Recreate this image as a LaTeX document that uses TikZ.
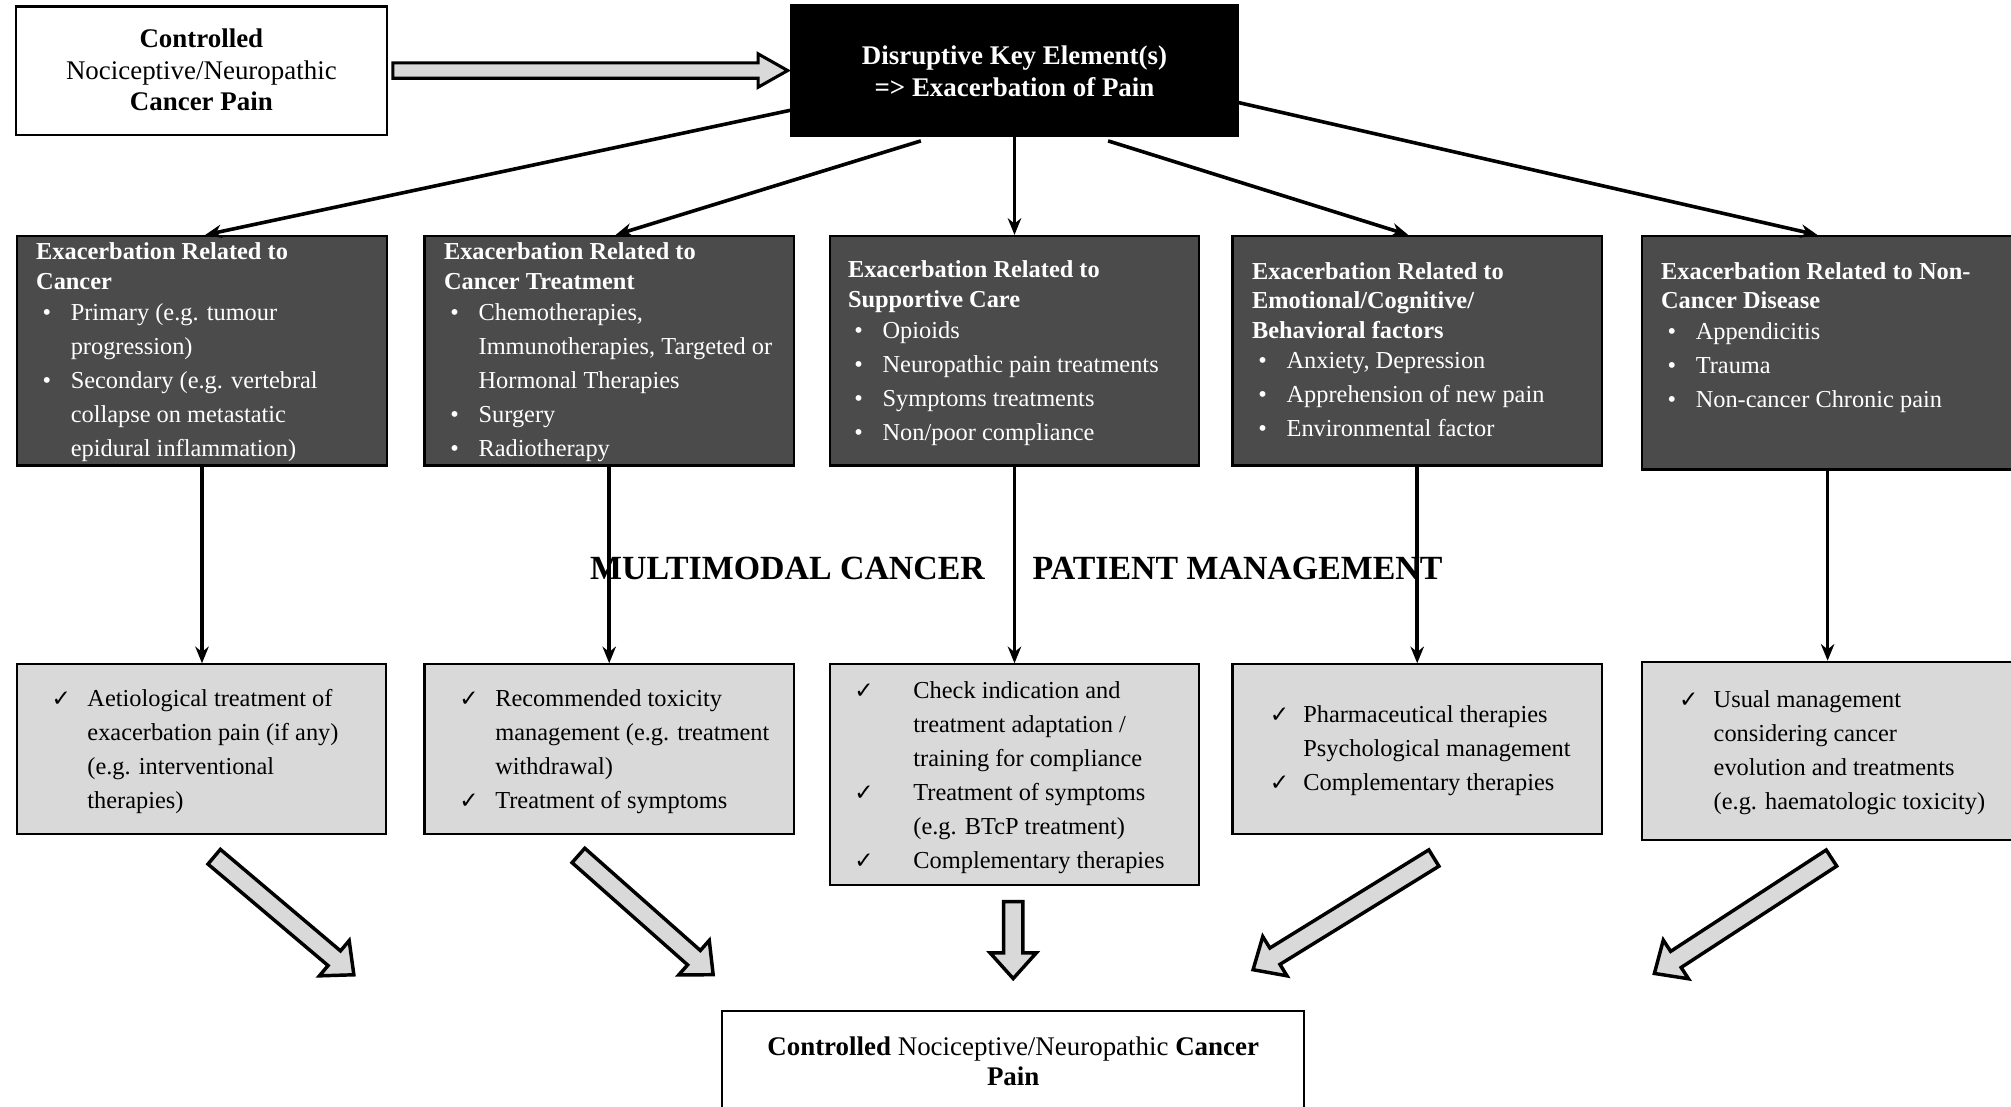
\documentclass[tikz,border=0pt]{standalone}
\usepackage{fontspec}
\setmainfont{Liberation Serif}
\newfontfamily\symfont{DejaVu Sans}
\usetikzlibrary{arrows.meta,calc}
\definecolor{darkfill}{HTML}{4B4B4B}
\definecolor{lightfill}{HTML}{D9D9D9}
\newcommand{\bu}{\makebox[27pt][l]{\hspace*{5pt}•}}
\newcommand{\ind}{\hspace*{27pt}}
\newcommand{\ck}[1]{\makebox[#1][l]{\symfont\fontsize{18}{18}\selectfont ✓}}
\newcommand{\blockarrow}[4]{%
  \begin{scope}[shift={(#1,#2)}, rotate=#3]
    \draw[barr] (0,-7.5) -- (#4-20,-7.5) -- (#4-20,-18) -- (#4,0) -- (#4-20,18) -- (#4-20,7.5) -- (0,7.5) -- cycle;
  \end{scope}}
\tikzset{
  box/.style={draw=black, line width=1.7pt, inner sep=0pt, rectangle},
  darkbox/.style={box, fill=darkfill},
  lightbox/.style={box, fill=lightfill},
  whitebox/.style={box, fill=white},
  blackbox/.style={box, fill=black},
  dtext/.style={text=white, font=\fontsize{19}{26.5}\selectfont, align=left, anchor=north west, inner sep=0pt},
  ltext/.style={text=black, font=\fontsize{19}{26.5}\selectfont, align=left, anchor=north west, inner sep=0pt},
  conn/.style={line width=2.8pt, -{Stealth[length=13pt,width=10.5pt]}},
  barr/.style={draw=black, line width=2.7pt, fill=lightfill, line join=miter},
}
\begin{document}
\begin{tikzpicture}[x=1pt, y=-1pt]
\useasboundingbox (0,0) rectangle (1568,863);
\fill[white] (0,0) rectangle (1568,863);

% top row
\node[whitebox, minimum width=289pt, minimum height=100pt] (ctl) at (157,55) {};
\node[blackbox, minimum width=348pt, minimum height=102pt] (dis) at (791,55) {};
\node[align=center, anchor=north, inner sep=0pt, font=\fontsize{21}{24.5}\selectfont] (ctlt) at (157,19.85)
  {\strut\textbf{Controlled}\\ Nociceptive/Neuropathic\\ \textbf{Cancer Pain}};
\node[align=center, anchor=north, inner sep=0pt, text=white, font=\fontsize{21}{25}\selectfont\bfseries] (dist) at (791,32.5)
  {\strut Disruptive Key Element(s)\\ => Exacerbation of Pain};

% top block arrow
\draw[barr, line width=2.4pt] ($(ctl.east)+(4,-6)$) -- ($(dis.west)+(-25,-6)$) -- ($(dis.west)+(-25,-13)$)
  -- ($(dis.west)+(-2,0)$) -- ($(dis.west)+(-25,13)$) -- ($(dis.west)+(-25,6)$) -- ($(ctl.east)+(4,6)$) -- cycle;

% dark boxes
\node[darkbox, minimum width=289pt, minimum height=179pt] (c1) at (157.5,273.5) {};
\node[darkbox, minimum width=288pt, minimum height=179pt] (c2) at (475,273.5) {};
\node[darkbox, minimum width=288pt, minimum height=179pt] (c3) at (791,273.5) {};
\node[darkbox, minimum width=288pt, minimum height=179pt] (c4) at (1105,273.5) {};
\node[darkbox, minimum width=290pt, minimum height=182pt] (c5) at (1425,275) {};

\node[dtext] (c1t) at (28,183.95) {\strut\textbf{Exacerbation Related to}\\[-3.5pt]
  \textbf{Cancer}\\[-2.5pt]
  \bu Primary (e.g. tumour\\
  \ind progression)\\
  \bu Secondary (e.g. vertebral\\
  \ind collapse on metastatic\\
  \ind epidural inflammation)};
\node[dtext] (c2t) at (346,183.95) {\strut\textbf{Exacerbation Related to}\\[-3.5pt]
  \textbf{Cancer Treatment}\\[-2.5pt]
  \bu Chemotherapies,\\
  \ind Immunotherapies, Targeted or\\
  \ind Hormonal Therapies\\
  \bu Surgery\\
  \bu Radiotherapy};
\node[dtext] (c3t) at (661,197.95) {\strut\textbf{Exacerbation Related to}\\[-3.5pt]
  \textbf{Supportive Care}\\[-2.5pt]
  \bu Opioids\\
  \bu Neuropathic pain treatments\\
  \bu Symptoms treatments\\
  \bu Non/poor compliance};
\node[dtext] (c4t) at (976,198.95) {\strut\textbf{Exacerbation Related to}\\[-3.5pt]
  \textbf{Emotional/Cognitive/}\\[-3.5pt]
  \textbf{Behavioral factors}\\[-2.5pt]
  \bu Anxiety, Depression\\
  \bu Apprehension of new pain\\
  \bu Environmental factor};
\node[dtext] (c5t) at (1295,198.95) {\strut\textbf{Exacerbation Related to Non-}\\[-3.5pt]
  \textbf{Cancer Disease}\\[-2.5pt]
  \bu Appendicitis\\
  \bu Trauma\\
  \bu Non-cancer Chronic pain};

% light boxes
\node[lightbox, minimum width=288pt, minimum height=132pt] (l1) at (157,584) {};
\node[lightbox, minimum width=288pt, minimum height=132pt] (l2) at (475,584) {};
\node[lightbox, minimum width=288pt, minimum height=172pt] (l3) at (791,604) {};
\node[lightbox, minimum width=288pt, minimum height=132pt] (l4) at (1105,584) {};
\node[lightbox, minimum width=290pt, minimum height=139pt] (l5) at (1425,585.5) {};

\node[ltext] (l1t) at (40,531.95) {\strut\ck{28pt}Aetiological treatment of\\
  \hspace*{28pt}exacerbation pain (if any)\\
  \hspace*{28pt}(e.g. interventional\\
  \hspace*{28pt}therapies)};
\node[ltext] (l2t) at (358,531.95) {\strut\ck{28pt}Recommended toxicity\\
  \hspace*{28pt}management (e.g. treatment\\
  \hspace*{28pt}withdrawal)\\
  \ck{28pt}Treatment of symptoms};
\node[ltext] (l3t) at (666,525.95) {\strut\ck{46pt}Check indication and\\
  \hspace*{46pt}treatment adaptation /\\
  \hspace*{46pt}training for compliance\\
  \ck{46pt}Treatment of symptoms\\
  \hspace*{46pt}(e.g. BTcP treatment)\\
  \ck{46pt}Complementary therapies};
\node[ltext] (l4t) at (990,544.95) {\strut\ck{26pt}Pharmaceutical therapies\\
  \hspace*{26pt}Psychological management\\
  \ck{26pt}Complementary therapies};
\node[ltext] (l5t) at (1309,532.95) {\strut\ck{27pt}Usual management\\
  \hspace*{27pt}considering cancer\\
  \hspace*{27pt}evolution and treatments\\
  \hspace*{27pt}(e.g. haematologic toxicity)};

% connectors from disruptive element
\draw[conn] ([yshift=-31pt]dis.west) -- ([xshift=2.5pt]c1.north);
\draw[conn] ([xshift=-73pt,yshift=-3pt]dis.south) -- ([xshift=5pt]c2.north);
\draw[conn] (dis.south) -- (c3.north);
\draw[conn] ([xshift=73pt,yshift=-3pt]dis.south) -- ([xshift=-7pt]c4.north);
\draw[conn] ([yshift=-25pt]dis.east) -- ([xshift=-8pt]c5.north);

% vertical connectors
\draw[conn] (c1.south) -- (c1.south |- l1.north);
\draw[conn] (c2.south) -- (c2.south |- l2.north);
\draw[conn] (c3.south) -- (c3.south |- l3.north);
\draw[conn] (c4.south) -- (c4.south |- l4.north);
\draw[conn] (c5.south) -- (c5.south |- l5.north);

% middle title
\node[anchor=base west, inner sep=0pt, font=\fontsize{26.4}{30}\selectfont\bfseries] (mm1) at (460,451.7) {MULTIMODAL CANCER};
\node[anchor=base west, inner sep=0pt, font=\fontsize{26.4}{30}\selectfont\bfseries] (mm2) at (805,451.7) {PATIENT MANAGEMENT};

% block arrows toward result
\blockarrow{167}{668}{-40.2}{142.6}
\blockarrow{451}{667}{-41.5}{140.3}
\blockarrow{790}{703}{-90}{60}
\blockarrow{1118}{669}{-148.3}{165.7}
\blockarrow{1428}{669}{-146.9}{164.8}

% final box
\node[whitebox, minimum width=454pt, minimum height=92pt] (fin) at (790,834) {};
\node[align=center, anchor=north, inner sep=0pt, font=\fontsize{21}{24}\selectfont] (fint) at (790,805.7)
  {\strut\textbf{Controlled} Nociceptive/Neuropathic \textbf{Cancer}\\ \textbf{Pain}};
\end{tikzpicture}
\end{document}
